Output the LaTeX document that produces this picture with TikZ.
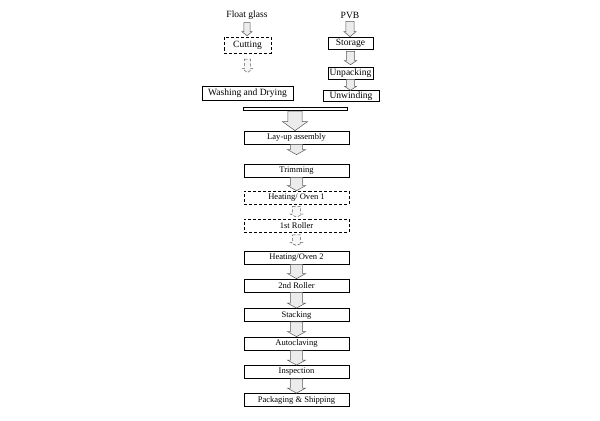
\documentclass[tikz,border=0pt]{standalone}
\usepackage{fontspec}
\setmainfont{Liberation Serif}
\usetikzlibrary{calc}
% hollow block arrow: [style]{from}{to}{shaft half}{head half}{head length}
\newcommand{\flowarr}[6][]{%
  \draw[arr,#1] let \p1=(#2), \p2=(#3) in
    (\x1-#4,\y1) -- (\x1+#4,\y1) -- (\x1+#4,\y2+#6) -- (\x1+#5,\y2+#6)
    -- (\x1,\y2) -- (\x1-#5,\y2+#6) -- (\x1-#4,\y2+#6) -- cycle;}

\begin{document}
\begin{tikzpicture}[x=0.035cm,y=-0.035cm,
  box/.style={draw,line width=0.6pt,inner sep=1pt,font=\fontsize{8.5}{10}\selectfont,
    minimum width=3.675cm,minimum height=0.46cm},
  dbox/.style={box,densely dashed,line width=0.5pt},
  sbox/.style={draw,line width=0.6pt,inner sep=1pt,font=\fontsize{9.5}{11}\selectfont},
  lbl/.style={inner sep=1pt,font=\fontsize{9.5}{11}\selectfont},
  arr/.style={draw=gray!70!black,fill=gray!15,line width=0.5pt},
  darr/.style={arr,densely dashed,fill=gray!6}]
\useasboundingbox (0,0) rectangle (600,421);

% glass line
\node[lbl] (fg) at (247,15) {Float glass};
\node[sbox,densely dashed,line width=0.5pt,minimum width=1.645cm,minimum height=0.56cm] (cut) at (247.5,45) {Cutting};
\node[sbox,minimum width=3.185cm,minimum height=0.49cm] (wash) at (247.5,93) {Washing and Drying};

% PVB line
\node[lbl] (pvb) at (350,15) {PVB};
\node[sbox,minimum width=1.575cm,minimum height=0.42cm] (stor) at (350.5,43) {Storage};
\node[sbox,minimum width=1.575cm,minimum height=0.42cm] (unpack) at (350.5,73) {Unpacking};
\node[sbox,minimum width=1.96cm,minimum height=0.35cm] (unwind) at (351,96) {Unwinding};

\node[draw,fill=white,line width=0.6pt,inner sep=0pt,minimum width=3.64cm,minimum height=0.12cm] (bar) at (295,109) {};

% main line
\node[box] (layup) at (296.5,137.5) {Lay-up assembly};
\node[box] (trim) at (296.5,170.5) {Trimming};
\node[dbox] (heat1) at (296.5,197.5) {Heating/ Oven 1};
\node[dbox] (roll1) at (296.5,226) {1st Roller};
\node[box] (heat2) at (296.5,257.5) {Heating/Oven 2};
\node[box] (roll2) at (296.5,285.5) {2nd Roller};
\node[box] (stack) at (296.5,315) {Stacking};
\node[box] (auto) at (296.5,343.5) {Autoclaving};
\node[box] (insp) at (296.5,372) {Inspection};
\node[box] (pack) at (296.5,400) {Packaging \& Shipping};

% arrows
\flowarr{$(fg.south)+(0,2)$}{$(cut.north)+(0,-1)$}{3pt}{5pt}{4pt}
\flowarr[darr]{$(cut.south)+(0,6)$}{$(wash.north)+(0,-13)$}{3pt}{5pt}{4pt}
\flowarr{$(pvb.south)+(0,2)$}{stor.north}{4pt}{6pt}{5pt}
\flowarr{$(stor.south)+(0,2)$}{$(unpack.north)+(0,-2)$}{4pt}{6pt}{4pt}
\flowarr{unpack.south}{unwind.north}{4pt}{6pt}{4pt}
\flowarr{bar.south}{layup.north}{7pt}{12.5pt}{9pt}
\flowarr{layup.south}{$(trim.north)+(0,-9)$}{6pt}{9pt}{5pt}
\flowarr{trim.south}{heat1.north}{6pt}{9pt}{5pt}
\flowarr[darr]{$(heat1.south)+(0,2)$}{$(roll1.north)+(0,-2)$}{4pt}{6pt}{3pt}
\flowarr[darr]{$(roll1.south)+(0,2)$}{$(heat2.north)+(0,-5)$}{4pt}{6pt}{3pt}
\flowarr{heat2.south}{roll2.north}{6pt}{9pt}{5pt}
\flowarr{roll2.south}{stack.north}{6pt}{9pt}{5pt}
\flowarr{stack.south}{auto.north}{6pt}{9pt}{5pt}
\flowarr{auto.south}{insp.north}{6pt}{9pt}{5pt}
\flowarr{insp.south}{pack.north}{6pt}{9pt}{5pt}
\end{tikzpicture}
\end{document}
